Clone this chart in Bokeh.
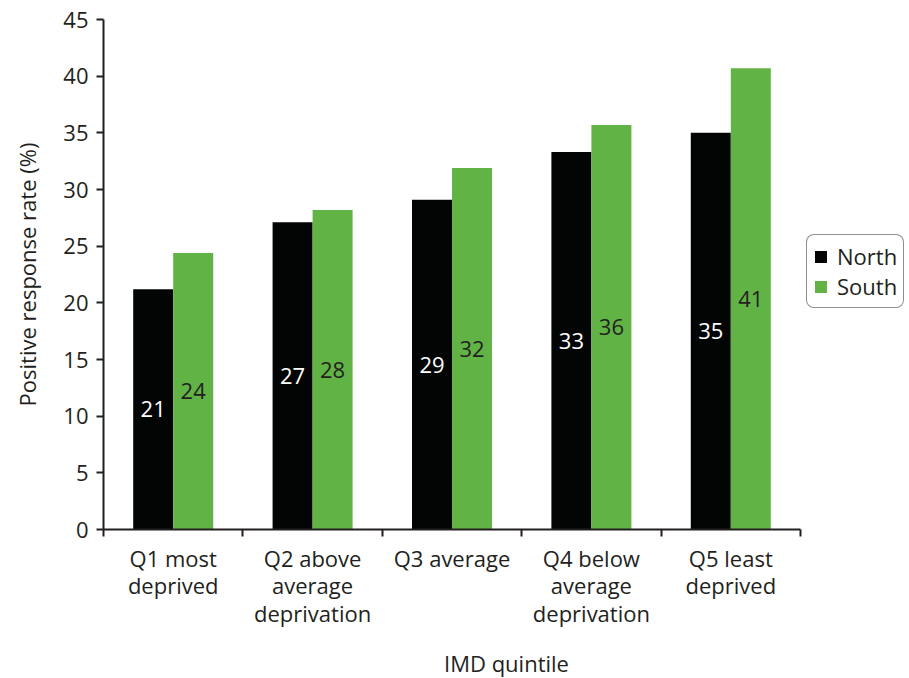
from bokeh.plotting import figure
from bokeh.models import (ColumnDataSource, Range1d, FixedTicker, Legend, LegendItem)
from bokeh.core.properties import value
from bokeh.embed import file_html
from bokeh.resources import INLINE

# Positive response rate (%) by IMD quintile, North vs South
categories = ["Q1 most\ndeprived", "Q2 above\naverage\ndeprivation", "Q3 average",
              "Q4 below\naverage\ndeprivation", "Q5 least\ndeprived"]
north = [21.2, 27.1, 29.1, 33.3, 35.0]
south = [24.4, 28.2, 31.9, 35.7, 40.7]
y_ticks = [0, 5, 10, 15, 20, 25, 30, 35, 40, 45]

FONT = "Open Sans"
FS = "22px"
TEXT = "#231f20"
BLACK = "#030404"
GREEN = "#62b346"
BAR_W = 0.287

n_cat = len(categories)
AXIS_PX = 697          # pixel length of the category axis
FRAME_PX = 806         # frame continues to the right edge to hold the legend

centers = [i + 0.5 for i in range(n_cat)]
n_src = ColumnDataSource(dict(
    x=[c - BAR_W / 2 for c in centers], top=north,
    ymid=[v / 2 for v in north], lab=[f"{v:.0f}" for v in north]))
s_src = ColumnDataSource(dict(
    x=[c + BAR_W / 2 for c in centers], top=south,
    ymid=[v / 2 for v in south], lab=[f"{v:.0f}" for v in south]))

p = figure(frame_width=FRAME_PX, frame_height=510, output_backend="svg",
           toolbar_location=None,
           x_range=Range1d(0, n_cat * FRAME_PX / AXIS_PX),
           y_range=Range1d(0, 45),
           min_border_left=103, min_border_top=19, min_border_bottom=149,
           min_border_right=0)
p.outline_line_color = None
p.xgrid.visible = False
p.ygrid.visible = False
p.background_fill_color = "white"
p.border_fill_color = "white"

rn = p.vbar(x="x", top="top", width=BAR_W, bottom=0, source=n_src,
            fill_color=BLACK, line_color=None)
rs = p.vbar(x="x", top="top", width=BAR_W, bottom=0, source=s_src,
            fill_color=GREEN, line_color=None)

p.text(x="x", y="ymid", text="lab", source=n_src, text_color="white",
       text_font=value(FONT), text_font_size=FS,
       text_align="center", text_baseline="middle")
p.text(x="x", y="ymid", text="lab", source=s_src, text_color=TEXT,
       text_font=value(FONT), text_font_size=FS,
       text_align="center", text_baseline="middle")

# x axis: labels at category centres, tick marks at category boundaries
xa = p.xaxis[0]
xa.bounds = (0, n_cat)
xa.ticker = FixedTicker(ticks=centers, minor_ticks=list(range(n_cat + 1)))
xa.major_label_overrides = {c: lab for c, lab in zip(centers, categories)}
xa.major_tick_line_color = None
xa.major_tick_out = 6
xa.major_tick_in = 0
xa.minor_tick_line_color = TEXT
xa.minor_tick_line_width = 2
xa.minor_tick_out = 7
xa.minor_tick_in = 0
xa.major_label_standoff = 6
xa.major_label_text_font = FONT
xa.major_label_text_font_size = FS
xa.major_label_text_color = TEXT
xa.major_label_text_line_height = 0.92
xa.axis_line_color = TEXT
xa.axis_line_width = 2
xa.axis_label = "IMD quintile"
xa.axis_label_text_font = FONT
xa.axis_label_text_font_size = FS
xa.axis_label_text_font_style = "normal"
xa.axis_label_text_color = TEXT
xa.axis_label_standoff = 17

ya = p.yaxis[0]
ya.ticker = FixedTicker(ticks=y_ticks)
ya.minor_tick_line_color = None
ya.major_tick_line_color = TEXT
ya.major_tick_line_width = 2
ya.major_tick_out = 7
ya.major_tick_in = 0
ya.major_label_standoff = 8
ya.major_label_text_font = FONT
ya.major_label_text_font_size = FS
ya.major_label_text_color = TEXT
ya.axis_line_color = TEXT
ya.axis_line_width = 2
ya.axis_label = "Positive response rate (%)"
ya.axis_label_text_font = FONT
ya.axis_label_text_font_size = FS
ya.axis_label_text_font_style = "normal"
ya.axis_label_text_color = TEXT
ya.axis_label_standoff = 18

legend = Legend(items=[LegendItem(label="North", renderers=[rn]),
                       LegendItem(label="South", renderers=[rs])],
                location=(703, 221))
legend.label_text_font = FONT
legend.label_text_font_size = FS
legend.label_text_color = TEXT
legend.glyph_width = 15
legend.glyph_height = 15
legend.label_standoff = 9
legend.label_height = 22
legend.spacing = -3
legend.padding = 6
legend.margin = 0
legend.border_line_color = TEXT
legend.border_line_width = 1.5
legend.border_radius = 8
p.add_layout(legend, "center")

open("out.html", "w").write(file_html(p, INLINE))
